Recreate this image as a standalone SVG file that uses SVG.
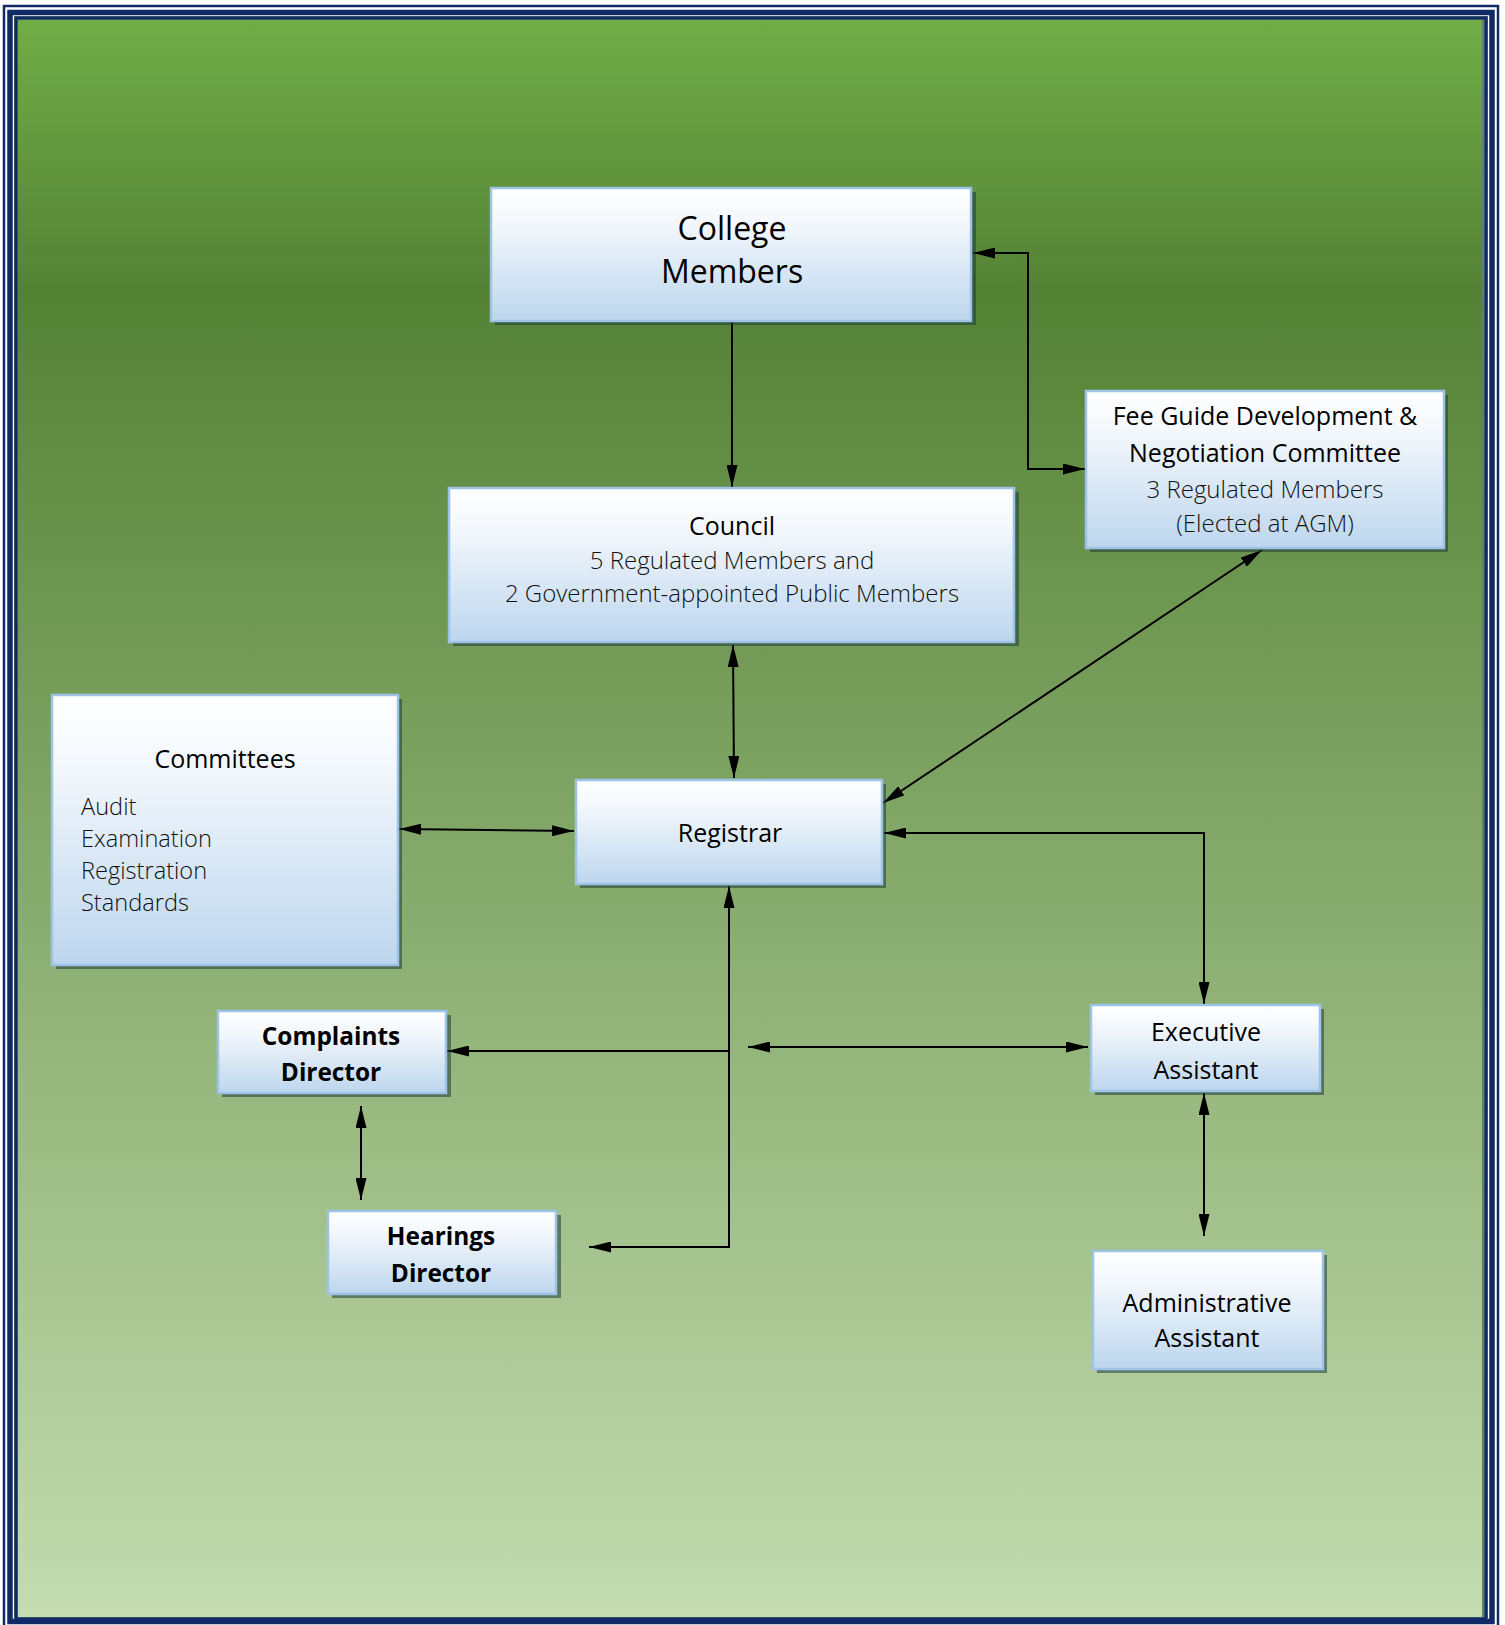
<svg xmlns="http://www.w3.org/2000/svg" width="1505" height="1625" viewBox="0 0 1505 1625">
<defs>
<linearGradient id="bg" x1="0" y1="0" x2="0" y2="1">
<stop offset="0" stop-color="#71ad47"/>
<stop offset="0.17" stop-color="#548235"/>
<stop offset="1" stop-color="#c4dcb0"/>
</linearGradient>
<linearGradient id="box" x1="0" y1="0" x2="0" y2="1">
<stop offset="0" stop-color="#ffffff"/>
<stop offset="0.25" stop-color="#f4f8fc"/>
<stop offset="1" stop-color="#bdd6ee"/>
</linearGradient>
<marker id="ah" markerUnits="userSpaceOnUse" markerWidth="23" markerHeight="11" refX="22" refY="5.5" orient="auto-start-reverse" viewBox="0 0 23 11">
<path d="M0,0 L22,5.5 L0,11 Z" fill="#000"/>
</marker>
<style>
.box{fill:url(#box);stroke:#9dc3e6;stroke-width:2.5}
.sh{fill:#1f3b3a;opacity:0.55}
.t{font-family:"Open Sans","Liberation Sans",sans-serif;fill:#000;text-anchor:middle}
.l{font-family:"Open Sans","Liberation Sans",sans-serif;fill:#111;font-weight:300}
.b{font-weight:700}
.c{fill:none;stroke:#000;stroke-width:2}
.a2{marker-start:url(#ah);marker-end:url(#ah)}
.a1{marker-end:url(#ah)}
</style>
</defs>
<rect x="0" y="0" width="1505" height="1625" fill="#ffffff"/>
<rect x="4" y="6" width="1494" height="1630" fill="none" stroke="#0f2a66" stroke-width="2.5"/>
<rect x="10" y="12.5" width="1482" height="1609" fill="none" stroke="#0f2a66" stroke-width="5.5"/>
<rect x="14" y="16" width="1474" height="1604" fill="#5e7f6c"/>
<rect x="16" y="18" width="1470" height="1601" fill="none" stroke="#0f2a66" stroke-width="3"/>
<rect x="18" y="20" width="1464" height="1597" fill="url(#bg)"/>

<g id="connectors">
<path class="c a1" d="M732,321 V487"/>
<path class="c a2" d="M1085,469 H1028 V253 H973"/>
<path class="c a2" d="M733,645 L734,778"/>
<path class="c a2" d="M1262,550 L883,803"/>
<path class="c a2" d="M399,829 L574,831"/>
<path class="c a2" d="M884,833 H1204 V1004"/>
<path class="c a2" d="M729,886 V1247 H589"/>
<path class="c a1" d="M729,1051 H447"/>
<path class="c a2" d="M748,1047 H1088"/>
<path class="c a2" d="M361,1106 V1200"/>
<path class="c a2" d="M1204,1093 V1236"/>
</g>

<g id="college-members">
<rect class="sh" x="495" y="192" width="481" height="133"/>
<rect class="box" x="491" y="188" width="480" height="133"/>
<text class="t" x="732" y="240" font-size="32">College</text>
<text class="t" x="732" y="283" font-size="32">Members</text>
</g>

<g id="fee-guide">
<rect class="sh" x="1090" y="395" width="358" height="157"/>
<rect class="box" x="1086" y="391" width="358" height="157"/>
<text class="t" x="1265" y="425" font-size="25">Fee Guide Development &amp;</text>
<text class="t" x="1265" y="462" font-size="25">Negotiation Committee</text>
<text class="l" x="1265" y="498" font-size="24" text-anchor="middle">3 Regulated Members</text>
<text class="l" x="1265" y="532" font-size="24" text-anchor="middle">(Elected at AGM)</text>
</g>

<g id="council">
<rect class="sh" x="453" y="492" width="566" height="154"/>
<rect class="box" x="449" y="488" width="565" height="154"/>
<text class="t" x="732" y="535" font-size="25">Council</text>
<text class="l" x="732" y="569" font-size="24" text-anchor="middle">5 Regulated Members and</text>
<text class="l" x="732" y="602" font-size="24" text-anchor="middle">2 Government-appointed Public Members</text>
</g>

<g id="committees">
<rect class="sh" x="56" y="699" width="346" height="270"/>
<rect class="box" x="52" y="695" width="346" height="270"/>
<text class="t" x="225" y="768" font-size="25">Committees</text>
<text class="l" x="81" y="815" font-size="23.6">Audit</text>
<text class="l" x="81" y="847" font-size="23.6">Examination</text>
<text class="l" x="81" y="879" font-size="23.6">Registration</text>
<text class="l" x="81" y="911" font-size="23.6">Standards</text>
</g>

<g id="registrar">
<rect class="sh" x="580" y="784" width="306" height="104"/>
<rect class="box" x="576" y="780" width="306" height="104"/>
<text class="t" x="730" y="842" font-size="25">Registrar</text>
</g>

<g id="complaints-director">
<rect class="sh" x="222" y="1015" width="229" height="82"/>
<rect class="box" x="218" y="1011" width="228" height="82"/>
<text class="t b" x="331" y="1045" font-size="24.4">Complaints</text>
<text class="t b" x="331" y="1081" font-size="24.4">Director</text>
</g>

<g id="hearings-director">
<rect class="sh" x="332" y="1215" width="229" height="83"/>
<rect class="box" x="328" y="1211" width="228" height="83"/>
<text class="t b" x="441" y="1245" font-size="24.4">Hearings</text>
<text class="t b" x="441" y="1282" font-size="24.4">Director</text>
</g>

<g id="executive-assistant">
<rect class="sh" x="1095" y="1009" width="229" height="86"/>
<rect class="box" x="1091" y="1005" width="229" height="86"/>
<text class="t" x="1206" y="1041" font-size="25">Executive</text>
<text class="t" x="1206" y="1079" font-size="25">Assistant</text>
</g>

<g id="administrative-assistant">
<rect class="sh" x="1097" y="1255" width="230" height="118"/>
<rect class="box" x="1093" y="1251" width="230" height="118"/>
<text class="t" x="1207" y="1312" font-size="25">Administrative</text>
<text class="t" x="1207" y="1347" font-size="25">Assistant</text>
</g>
</svg>
